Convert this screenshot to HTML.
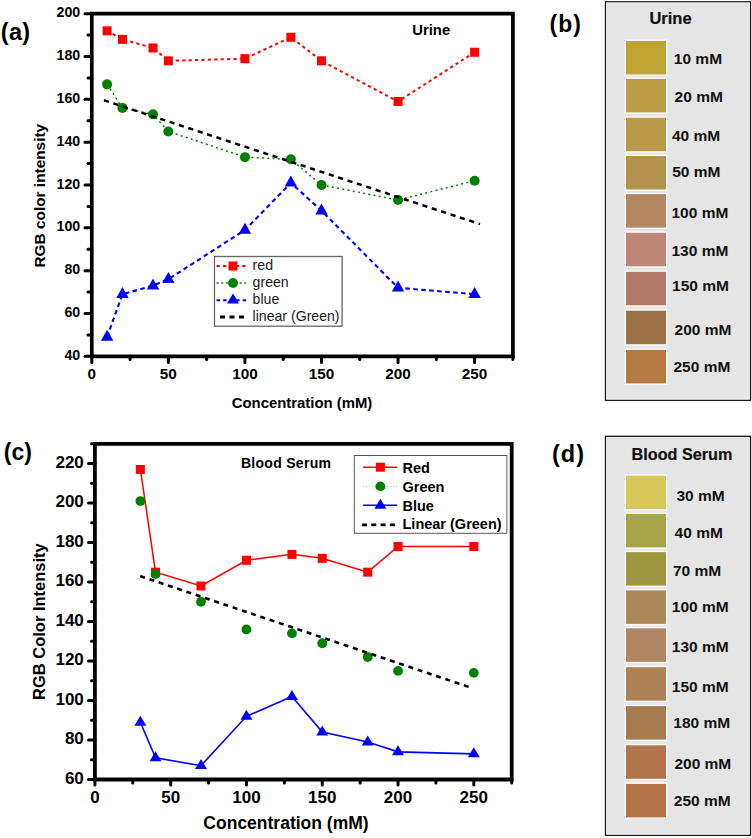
<!DOCTYPE html>
<html><head><meta charset="utf-8"><style>
html,body{margin:0;padding:0;background:#fff;}
body{width:752px;height:838px;overflow:hidden;}
svg{display:block;font-family:"Liberation Sans", sans-serif;}
</style></head><body>
<svg width="752" height="838" viewBox="0 0 752 838">
<g>
<path d="M91.8,356.3 L91.8,13.7 L512.9,13.7 L512.9,356.3 Z" fill="none" stroke="#000" stroke-width="3.7"/>
<line x1="91.8" y1="356.30" x2="85.0" y2="356.30" stroke="#000" stroke-width="3" stroke-linecap="round"/>
<text transform="translate(80.2,359.90) scale(1,1.08)" text-anchor="end" font-size="14.2" font-weight="bold">40</text>
<line x1="91.8" y1="334.89" x2="88.0" y2="334.89" stroke="#000" stroke-width="3" stroke-linecap="round"/>
<line x1="91.8" y1="313.48" x2="85.0" y2="313.48" stroke="#000" stroke-width="3" stroke-linecap="round"/>
<text transform="translate(80.2,317.08) scale(1,1.08)" text-anchor="end" font-size="14.2" font-weight="bold">60</text>
<line x1="91.8" y1="292.06" x2="88.0" y2="292.06" stroke="#000" stroke-width="3" stroke-linecap="round"/>
<line x1="91.8" y1="270.65" x2="85.0" y2="270.65" stroke="#000" stroke-width="3" stroke-linecap="round"/>
<text transform="translate(80.2,274.25) scale(1,1.08)" text-anchor="end" font-size="14.2" font-weight="bold">80</text>
<line x1="91.8" y1="249.24" x2="88.0" y2="249.24" stroke="#000" stroke-width="3" stroke-linecap="round"/>
<line x1="91.8" y1="227.83" x2="85.0" y2="227.83" stroke="#000" stroke-width="3" stroke-linecap="round"/>
<text transform="translate(80.2,231.43) scale(1,1.08)" text-anchor="end" font-size="14.2" font-weight="bold">100</text>
<line x1="91.8" y1="206.41" x2="88.0" y2="206.41" stroke="#000" stroke-width="3" stroke-linecap="round"/>
<line x1="91.8" y1="185.00" x2="85.0" y2="185.00" stroke="#000" stroke-width="3" stroke-linecap="round"/>
<text transform="translate(80.2,188.60) scale(1,1.08)" text-anchor="end" font-size="14.2" font-weight="bold">120</text>
<line x1="91.8" y1="163.59" x2="88.0" y2="163.59" stroke="#000" stroke-width="3" stroke-linecap="round"/>
<line x1="91.8" y1="142.18" x2="85.0" y2="142.18" stroke="#000" stroke-width="3" stroke-linecap="round"/>
<text transform="translate(80.2,145.78) scale(1,1.08)" text-anchor="end" font-size="14.2" font-weight="bold">140</text>
<line x1="91.8" y1="120.76" x2="88.0" y2="120.76" stroke="#000" stroke-width="3" stroke-linecap="round"/>
<line x1="91.8" y1="99.35" x2="85.0" y2="99.35" stroke="#000" stroke-width="3" stroke-linecap="round"/>
<text transform="translate(80.2,102.95) scale(1,1.08)" text-anchor="end" font-size="14.2" font-weight="bold">160</text>
<line x1="91.8" y1="77.94" x2="88.0" y2="77.94" stroke="#000" stroke-width="3" stroke-linecap="round"/>
<line x1="91.8" y1="56.53" x2="85.0" y2="56.53" stroke="#000" stroke-width="3" stroke-linecap="round"/>
<text transform="translate(80.2,60.13) scale(1,1.08)" text-anchor="end" font-size="14.2" font-weight="bold">180</text>
<line x1="91.8" y1="35.11" x2="88.0" y2="35.11" stroke="#000" stroke-width="3" stroke-linecap="round"/>
<line x1="91.8" y1="13.70" x2="85.0" y2="13.70" stroke="#000" stroke-width="3" stroke-linecap="round"/>
<text transform="translate(80.2,17.30) scale(1,1.08)" text-anchor="end" font-size="14.2" font-weight="bold">200</text>
<line x1="91.80" y1="356.3" x2="91.80" y2="362.6" stroke="#000" stroke-width="3" stroke-linecap="round"/>
<text transform="translate(91.80,379.4) scale(1,0.97)" text-anchor="middle" font-size="15.3" font-weight="bold">0</text>
<line x1="130.08" y1="356.3" x2="130.08" y2="359.6" stroke="#000" stroke-width="3" stroke-linecap="round"/>
<line x1="168.36" y1="356.3" x2="168.36" y2="362.6" stroke="#000" stroke-width="3" stroke-linecap="round"/>
<text transform="translate(168.36,379.4) scale(1,0.97)" text-anchor="middle" font-size="15.3" font-weight="bold">50</text>
<line x1="206.65" y1="356.3" x2="206.65" y2="359.6" stroke="#000" stroke-width="3" stroke-linecap="round"/>
<line x1="244.93" y1="356.3" x2="244.93" y2="362.6" stroke="#000" stroke-width="3" stroke-linecap="round"/>
<text transform="translate(244.93,379.4) scale(1,0.97)" text-anchor="middle" font-size="15.3" font-weight="bold">100</text>
<line x1="283.21" y1="356.3" x2="283.21" y2="359.6" stroke="#000" stroke-width="3" stroke-linecap="round"/>
<line x1="321.49" y1="356.3" x2="321.49" y2="362.6" stroke="#000" stroke-width="3" stroke-linecap="round"/>
<text transform="translate(321.49,379.4) scale(1,0.97)" text-anchor="middle" font-size="15.3" font-weight="bold">150</text>
<line x1="359.77" y1="356.3" x2="359.77" y2="359.6" stroke="#000" stroke-width="3" stroke-linecap="round"/>
<line x1="398.05" y1="356.3" x2="398.05" y2="362.6" stroke="#000" stroke-width="3" stroke-linecap="round"/>
<text transform="translate(398.05,379.4) scale(1,0.97)" text-anchor="middle" font-size="15.3" font-weight="bold">200</text>
<line x1="436.34" y1="356.3" x2="436.34" y2="359.6" stroke="#000" stroke-width="3" stroke-linecap="round"/>
<line x1="474.62" y1="356.3" x2="474.62" y2="362.6" stroke="#000" stroke-width="3" stroke-linecap="round"/>
<text transform="translate(474.62,379.4) scale(1,0.97)" text-anchor="middle" font-size="15.3" font-weight="bold">250</text>
<line x1="512.90" y1="356.3" x2="512.90" y2="359.6" stroke="#000" stroke-width="3" stroke-linecap="round"/>
<polyline points="107.11,30.83 122.43,39.39 153.05,47.96 168.36,60.81 244.93,58.67 290.87,37.25 321.49,60.81 398.05,101.49 474.62,52.24" fill="none" stroke="#ff0000" stroke-width="2" stroke-dasharray="3.2,3.2" stroke-linecap="butt"/><rect x="102.61" y="26.33" width="9" height="9" fill="#ff0000"/><rect x="117.93" y="34.89" width="9" height="9" fill="#ff0000"/><rect x="148.55" y="43.46" width="9" height="9" fill="#ff0000"/><rect x="163.86" y="56.31" width="9" height="9" fill="#ff0000"/><rect x="240.43" y="54.17" width="9" height="9" fill="#ff0000"/><rect x="286.37" y="32.75" width="9" height="9" fill="#ff0000"/><rect x="316.99" y="56.31" width="9" height="9" fill="#ff0000"/><rect x="393.55" y="96.99" width="9" height="9" fill="#ff0000"/><rect x="470.12" y="47.74" width="9" height="9" fill="#ff0000"/><polyline points="107.11,84.36 122.43,107.91 153.05,114.34 168.36,131.47 244.93,157.16 290.87,159.31 321.49,185.00 398.05,199.99 474.62,180.72" fill="none" stroke="#008000" stroke-width="1.5" stroke-dasharray="2,3.3" stroke-linecap="butt"/><circle cx="107.11" cy="84.36" r="5" fill="#008000"/><circle cx="122.43" cy="107.91" r="5" fill="#008000"/><circle cx="153.05" cy="114.34" r="5" fill="#008000"/><circle cx="168.36" cy="131.47" r="5" fill="#008000"/><circle cx="244.93" cy="157.16" r="5" fill="#008000"/><circle cx="290.87" cy="159.31" r="5" fill="#008000"/><circle cx="321.49" cy="185.00" r="5" fill="#008000"/><circle cx="398.05" cy="199.99" r="5" fill="#008000"/><circle cx="474.62" cy="180.72" r="5" fill="#008000"/><polyline points="107.11,337.03 122.43,294.20 153.05,285.64 168.36,279.22 244.93,229.97 290.87,182.86 321.49,210.69 398.05,287.78 474.62,294.20" fill="none" stroke="#0000ff" stroke-width="2.1" stroke-dasharray="4.6,3.4" stroke-linecap="butt"/><path d="M107.11,329.77 L113.31,340.77 L100.91,340.77 Z" fill="#0000ff"/><path d="M122.43,286.94 L128.63,297.94 L116.23,297.94 Z" fill="#0000ff"/><path d="M153.05,278.38 L159.25,289.38 L146.85,289.38 Z" fill="#0000ff"/><path d="M168.36,271.96 L174.56,282.96 L162.16,282.96 Z" fill="#0000ff"/><path d="M244.93,222.71 L251.13,233.71 L238.73,233.71 Z" fill="#0000ff"/><path d="M290.87,175.60 L297.07,186.60 L284.67,186.60 Z" fill="#0000ff"/><path d="M321.49,203.44 L327.69,214.44 L315.29,214.44 Z" fill="#0000ff"/><path d="M398.05,280.52 L404.25,291.52 L391.85,291.52 Z" fill="#0000ff"/><path d="M474.62,286.94 L480.82,297.94 L468.42,297.94 Z" fill="#0000ff"/><polyline points="104.00,100.30 480.00,224.10" fill="none" stroke="#000" stroke-width="2.5" stroke-dasharray="5.2,4.66" stroke-linecap="butt"/>
<text transform="translate(412.3,34.8) scale(1,1.03)" font-size="14.8" font-weight="bold">Urine</text>
<text transform="translate(45.2,195.7) rotate(-90)" text-anchor="middle" font-size="15.4" font-weight="bold">RGB color intensity</text>
<text x="302" y="407.5" text-anchor="middle" font-size="14.9" font-weight="bold">Concentration (mM)</text>
<rect x="214.5" y="256.5" width="127.6" height="69.7" fill="#fff" stroke="#666" stroke-width="1.3"/>
<polyline points="216.60,266.00 248.50,266.00" fill="none" stroke="#ff0000" stroke-width="2" stroke-dasharray="3.2,3.2" stroke-linecap="butt"/>
<rect x="228.50" y="261.50" width="9" height="9" fill="#ff0000"/>
<polyline points="216.60,283.00 248.50,283.00" fill="none" stroke="#008000" stroke-width="1.6" stroke-dasharray="2,2.6" stroke-linecap="butt"/>
<circle cx="233.00" cy="283.00" r="5" fill="#008000"/>
<polyline points="216.60,300.20 248.50,300.20" fill="none" stroke="#0000ff" stroke-width="2" stroke-dasharray="3.5,3" stroke-linecap="butt"/>
<path d="M233.00,293.60 L239.00,303.60 L227.00,303.60 Z" fill="#0000ff"/>
<polyline points="220.00,317.00 245.00,317.00" fill="none" stroke="#000" stroke-width="3" stroke-dasharray="5,4.5" stroke-linecap="butt"/>
<text x="252.6" y="270.10" font-size="14.1" fill="#1a1a1a">red</text>
<text x="252.6" y="287.20" font-size="14.1" fill="#1a1a1a">green</text>
<text x="252.6" y="304.30" font-size="14.1" fill="#1a1a1a">blue</text>
<text x="252.6" y="321.40" font-size="14.1" fill="#1a1a1a">linear (Green)</text>
</g>
<g>
<path d="M94.9,779.5 L94.9,443.8 L511.7,443.8 L511.7,779.5 Z" fill="none" stroke="#000" stroke-width="3.8"/>
<line x1="94.9" y1="779.50" x2="88.5" y2="779.50" stroke="#000" stroke-width="3" stroke-linecap="round"/>
<text x="83.8" y="783.90" text-anchor="end" font-size="17" font-weight="bold">60</text>
<line x1="94.9" y1="759.75" x2="91.5" y2="759.75" stroke="#000" stroke-width="3" stroke-linecap="round"/>
<line x1="94.9" y1="740.01" x2="88.5" y2="740.01" stroke="#000" stroke-width="3" stroke-linecap="round"/>
<text x="83.8" y="744.41" text-anchor="end" font-size="17" font-weight="bold">80</text>
<line x1="94.9" y1="720.26" x2="91.5" y2="720.26" stroke="#000" stroke-width="3" stroke-linecap="round"/>
<line x1="94.9" y1="700.51" x2="88.5" y2="700.51" stroke="#000" stroke-width="3" stroke-linecap="round"/>
<text x="83.8" y="704.91" text-anchor="end" font-size="17" font-weight="bold">100</text>
<line x1="94.9" y1="680.76" x2="91.5" y2="680.76" stroke="#000" stroke-width="3" stroke-linecap="round"/>
<line x1="94.9" y1="661.02" x2="88.5" y2="661.02" stroke="#000" stroke-width="3" stroke-linecap="round"/>
<text x="83.8" y="665.42" text-anchor="end" font-size="17" font-weight="bold">120</text>
<line x1="94.9" y1="641.27" x2="91.5" y2="641.27" stroke="#000" stroke-width="3" stroke-linecap="round"/>
<line x1="94.9" y1="621.52" x2="88.5" y2="621.52" stroke="#000" stroke-width="3" stroke-linecap="round"/>
<text x="83.8" y="625.92" text-anchor="end" font-size="17" font-weight="bold">140</text>
<line x1="94.9" y1="601.78" x2="91.5" y2="601.78" stroke="#000" stroke-width="3" stroke-linecap="round"/>
<line x1="94.9" y1="582.03" x2="88.5" y2="582.03" stroke="#000" stroke-width="3" stroke-linecap="round"/>
<text x="83.8" y="586.43" text-anchor="end" font-size="17" font-weight="bold">160</text>
<line x1="94.9" y1="562.28" x2="91.5" y2="562.28" stroke="#000" stroke-width="3" stroke-linecap="round"/>
<line x1="94.9" y1="542.54" x2="88.5" y2="542.54" stroke="#000" stroke-width="3" stroke-linecap="round"/>
<text x="83.8" y="546.94" text-anchor="end" font-size="17" font-weight="bold">180</text>
<line x1="94.9" y1="522.79" x2="91.5" y2="522.79" stroke="#000" stroke-width="3" stroke-linecap="round"/>
<line x1="94.9" y1="503.04" x2="88.5" y2="503.04" stroke="#000" stroke-width="3" stroke-linecap="round"/>
<text x="83.8" y="507.44" text-anchor="end" font-size="17" font-weight="bold">200</text>
<line x1="94.9" y1="483.29" x2="91.5" y2="483.29" stroke="#000" stroke-width="3" stroke-linecap="round"/>
<line x1="94.9" y1="463.55" x2="88.5" y2="463.55" stroke="#000" stroke-width="3" stroke-linecap="round"/>
<text x="83.8" y="467.95" text-anchor="end" font-size="17" font-weight="bold">220</text>
<line x1="94.9" y1="443.80" x2="91.5" y2="443.80" stroke="#000" stroke-width="3" stroke-linecap="round"/>
<line x1="94.90" y1="779.5" x2="94.90" y2="784.9" stroke="#000" stroke-width="3" stroke-linecap="round"/>
<text x="94.90" y="802.6" text-anchor="middle" font-size="17" font-weight="bold">0</text>
<line x1="132.79" y1="779.5" x2="132.79" y2="782.9" stroke="#000" stroke-width="3" stroke-linecap="round"/>
<line x1="170.68" y1="779.5" x2="170.68" y2="784.9" stroke="#000" stroke-width="3" stroke-linecap="round"/>
<text x="170.68" y="802.6" text-anchor="middle" font-size="17" font-weight="bold">50</text>
<line x1="208.57" y1="779.5" x2="208.57" y2="782.9" stroke="#000" stroke-width="3" stroke-linecap="round"/>
<line x1="246.46" y1="779.5" x2="246.46" y2="784.9" stroke="#000" stroke-width="3" stroke-linecap="round"/>
<text x="246.46" y="802.6" text-anchor="middle" font-size="17" font-weight="bold">100</text>
<line x1="284.35" y1="779.5" x2="284.35" y2="782.9" stroke="#000" stroke-width="3" stroke-linecap="round"/>
<line x1="322.25" y1="779.5" x2="322.25" y2="784.9" stroke="#000" stroke-width="3" stroke-linecap="round"/>
<text x="322.25" y="802.6" text-anchor="middle" font-size="17" font-weight="bold">150</text>
<line x1="360.14" y1="779.5" x2="360.14" y2="782.9" stroke="#000" stroke-width="3" stroke-linecap="round"/>
<line x1="398.03" y1="779.5" x2="398.03" y2="784.9" stroke="#000" stroke-width="3" stroke-linecap="round"/>
<text x="398.03" y="802.6" text-anchor="middle" font-size="17" font-weight="bold">200</text>
<line x1="435.92" y1="779.5" x2="435.92" y2="782.9" stroke="#000" stroke-width="3" stroke-linecap="round"/>
<line x1="473.81" y1="779.5" x2="473.81" y2="784.9" stroke="#000" stroke-width="3" stroke-linecap="round"/>
<text x="473.81" y="802.6" text-anchor="middle" font-size="17" font-weight="bold">250</text>
<line x1="511.70" y1="779.5" x2="511.70" y2="782.9" stroke="#000" stroke-width="3" stroke-linecap="round"/>
<polyline points="140.37,469.47 155.53,572.16 200.99,585.98 246.46,560.31 291.93,554.38 322.25,558.33 367.71,572.16 398.03,546.48 473.81,546.48" fill="none" stroke="#ff0000" stroke-width="1.5" stroke-linecap="butt"/><rect x="135.87" y="464.97" width="9" height="9" fill="#ff0000"/><rect x="151.03" y="567.66" width="9" height="9" fill="#ff0000"/><rect x="196.49" y="581.48" width="9" height="9" fill="#ff0000"/><rect x="241.96" y="555.81" width="9" height="9" fill="#ff0000"/><rect x="287.43" y="549.88" width="9" height="9" fill="#ff0000"/><rect x="317.75" y="553.83" width="9" height="9" fill="#ff0000"/><rect x="363.21" y="567.66" width="9" height="9" fill="#ff0000"/><rect x="393.53" y="541.98" width="9" height="9" fill="#ff0000"/><rect x="469.31" y="541.98" width="9" height="9" fill="#ff0000"/><circle cx="140.37" cy="501.07" r="4.9" fill="#008000"/><circle cx="155.53" cy="574.13" r="4.9" fill="#008000"/><circle cx="200.99" cy="601.78" r="4.9" fill="#008000"/><circle cx="246.46" cy="629.42" r="4.9" fill="#008000"/><circle cx="291.93" cy="633.37" r="4.9" fill="#008000"/><circle cx="322.25" cy="643.25" r="4.9" fill="#008000"/><circle cx="367.71" cy="657.07" r="4.9" fill="#008000"/><circle cx="398.03" cy="670.89" r="4.9" fill="#008000"/><circle cx="473.81" cy="672.87" r="4.9" fill="#008000"/><polyline points="140.37,722.23 155.53,757.78 200.99,765.68 246.46,716.31 291.93,696.56 322.25,732.11 367.71,741.98 398.03,751.85 473.81,753.83" fill="none" stroke="#0000ff" stroke-width="1.6" stroke-linecap="butt"/><path d="M140.37,715.63 L146.37,725.63 L134.37,725.63 Z" fill="#0000ff"/><path d="M155.53,751.18 L161.53,761.18 L149.53,761.18 Z" fill="#0000ff"/><path d="M200.99,759.08 L206.99,769.08 L194.99,769.08 Z" fill="#0000ff"/><path d="M246.46,709.71 L252.46,719.71 L240.46,719.71 Z" fill="#0000ff"/><path d="M291.93,689.96 L297.93,699.96 L285.93,699.96 Z" fill="#0000ff"/><path d="M322.25,725.51 L328.25,735.51 L316.25,735.51 Z" fill="#0000ff"/><path d="M367.71,735.38 L373.71,745.38 L361.71,745.38 Z" fill="#0000ff"/><path d="M398.03,745.25 L404.03,755.25 L392.03,755.25 Z" fill="#0000ff"/><path d="M473.81,747.23 L479.81,757.23 L467.81,757.23 Z" fill="#0000ff"/><polyline points="140.20,576.10 469.30,687.10" fill="none" stroke="#000" stroke-width="2.6" stroke-dasharray="5,4.76" stroke-linecap="butt"/>
<text x="240.9" y="467.7" font-size="14" font-weight="bold" letter-spacing="0.3">Blood Serum</text>
<text transform="translate(44.8,621.6) rotate(-90)" text-anchor="middle" font-size="16.5" font-weight="bold">RGB Color Intensity</text>
<text x="286" y="829" text-anchor="middle" font-size="17.5" font-weight="bold">Concentration (mM)</text>
<rect x="354.3" y="455.5" width="152.6" height="77.8" fill="#fff" stroke="#555" stroke-width="1"/>
<polyline points="363.10,467.20 397.20,467.20" fill="none" stroke="#ff0000" stroke-width="1.6" stroke-linecap="butt"/>
<rect x="375.90" y="462.70" width="9" height="9" fill="#ff0000"/>
<polyline points="363.10,486.40 397.20,486.40" fill="none" stroke="#9c9" stroke-width="1" stroke-dasharray="1,2" stroke-linecap="butt"/>
<circle cx="380.40" cy="486.40" r="4.9" fill="#008000"/>
<polyline points="363.10,505.30 397.20,505.30" fill="none" stroke="#0000ff" stroke-width="1.6" stroke-linecap="butt"/>
<path d="M380.40,498.70 L386.40,508.70 L374.40,508.70 Z" fill="#0000ff"/>
<polyline points="362.00,524.90 397.50,524.90" fill="none" stroke="#000" stroke-width="2.7" stroke-dasharray="5,4.3" stroke-linecap="butt"/>
<text x="402.5" y="473.00" font-size="14.5" font-weight="bold">Red</text>
<text x="402.5" y="492.20" font-size="14.5" font-weight="bold">Green</text>
<text x="402.5" y="511.10" font-size="14.5" font-weight="bold">Blue</text>
<text x="402.5" y="529.40" font-size="14.5" font-weight="bold">Linear (Green)</text>
</g>
<text transform="translate(0.8,40.4) scale(1,1.04)" font-size="23.5" font-weight="bold" letter-spacing="0.3">(a)</text>
<text transform="translate(3.8,460.2) scale(1,1.04)" font-size="23" font-weight="bold">(c)</text>
<text transform="translate(549.5,31.9) scale(1,1.04)" font-size="23" font-weight="bold" letter-spacing="1">(b)</text>
<text transform="translate(552,461.7) scale(1,1.04)" font-size="23.5" font-weight="bold" letter-spacing="1">(d)</text>
<rect x="605.5" y="1.8" width="145" height="398.5" fill="#e5e5e5" stroke="#111" stroke-width="1.3"/>
<rect x="606.7" y="3.0" width="142.6" height="396.1" fill="none" stroke="#f4f4f4" stroke-width="0.8"/>
<text transform="translate(649.4,24.2) scale(1,1.0)" font-size="16.5" font-weight="bold" fill="#111" stroke="#111" stroke-width="0.2">Urine</text>
<rect x="624.6" y="39.50" width="42.8" height="36.5" fill="#fafafa"/>
<rect x="626" y="41.00" width="40" height="33.5" fill="#c0a532"/>
<text transform="translate(673.80,63.90) scale(1,1.0)" font-size="15.5" font-weight="bold" fill="#111">10 mM</text>
<rect x="624.6" y="77.40" width="42.8" height="36.5" fill="#fafafa"/>
<rect x="626" y="78.90" width="40" height="33.5" fill="#bb9d45"/>
<text transform="translate(674.60,102.20) scale(1,1.0)" font-size="15.5" font-weight="bold" fill="#111">20 mM</text>
<rect x="624.6" y="116.20" width="42.8" height="36.5" fill="#fafafa"/>
<rect x="626" y="117.70" width="40" height="33.5" fill="#b89a4a"/>
<text transform="translate(671.90,141.30) scale(1,1.0)" font-size="15.5" font-weight="bold" fill="#111">40 mM</text>
<rect x="624.6" y="154.50" width="42.8" height="36.5" fill="#fafafa"/>
<rect x="626" y="156.00" width="40" height="33.5" fill="#b2924c"/>
<text transform="translate(672.20,176.90) scale(1,1.0)" font-size="15.5" font-weight="bold" fill="#111">50 mM</text>
<rect x="624.6" y="192.60" width="42.8" height="36.5" fill="#fafafa"/>
<rect x="626" y="194.10" width="40" height="33.5" fill="#b38762"/>
<text transform="translate(671.50,217.70) scale(1,1.0)" font-size="15.5" font-weight="bold" fill="#111">100 mM</text>
<rect x="624.6" y="231.30" width="42.8" height="36.5" fill="#fafafa"/>
<rect x="626" y="232.80" width="40" height="33.5" fill="#be8677"/>
<text transform="translate(671.50,256.40) scale(1,1.0)" font-size="15.5" font-weight="bold" fill="#111">130 mM</text>
<rect x="624.6" y="270.30" width="42.8" height="36.5" fill="#fafafa"/>
<rect x="626" y="271.80" width="40" height="33.5" fill="#b2796b"/>
<text transform="translate(672.10,291.30) scale(1,1.0)" font-size="15.5" font-weight="bold" fill="#111">150 mM</text>
<rect x="624.6" y="309.20" width="42.8" height="36.5" fill="#fafafa"/>
<rect x="626" y="310.70" width="40" height="33.5" fill="#9e7248"/>
<text transform="translate(674.60,334.60) scale(1,1.0)" font-size="15.5" font-weight="bold" fill="#111">200 mM</text>
<rect x="624.6" y="348.40" width="42.8" height="36.5" fill="#fafafa"/>
<rect x="626" y="349.90" width="40" height="33.5" fill="#b57a43"/>
<text transform="translate(673.50,371.60) scale(1,1.0)" font-size="15.5" font-weight="bold" fill="#111">250 mM</text>
<rect x="605.5" y="436.3" width="145" height="398.99999999999994" fill="#e5e5e5" stroke="#111" stroke-width="1.3"/>
<rect x="606.7" y="437.5" width="142.6" height="396.59999999999997" fill="none" stroke="#f4f4f4" stroke-width="0.8"/>
<text transform="translate(631.6,459.6) scale(1,1.0)" font-size="16.2" font-weight="bold" fill="#111" stroke="#111" stroke-width="0.2">Blood Serum</text>
<rect x="624.6" y="474.20" width="42.8" height="36.5" fill="#fafafa"/>
<rect x="626" y="475.70" width="40" height="33.5" fill="#d8c85a"/>
<text transform="translate(676.40,501.30) scale(1,1.0)" font-size="15.5" font-weight="bold" fill="#111">30 mM</text>
<rect x="624.6" y="512.40" width="42.8" height="36.5" fill="#fafafa"/>
<rect x="626" y="513.90" width="40" height="33.5" fill="#a6a548"/>
<text transform="translate(674.60,537.70) scale(1,1.0)" font-size="15.5" font-weight="bold" fill="#111">40 mM</text>
<rect x="624.6" y="550.60" width="42.8" height="36.5" fill="#fafafa"/>
<rect x="626" y="552.10" width="40" height="33.5" fill="#9f9642"/>
<text transform="translate(672.90,575.50) scale(1,1.0)" font-size="15.5" font-weight="bold" fill="#111">70 mM</text>
<rect x="624.6" y="588.90" width="42.8" height="36.5" fill="#fafafa"/>
<rect x="626" y="590.40" width="40" height="33.5" fill="#aa885a"/>
<text transform="translate(671.80,611.50) scale(1,1.0)" font-size="15.5" font-weight="bold" fill="#111">100 mM</text>
<rect x="624.6" y="626.80" width="42.8" height="36.5" fill="#fafafa"/>
<rect x="626" y="628.30" width="40" height="33.5" fill="#b08665"/>
<text transform="translate(671.80,651.90) scale(1,1.0)" font-size="15.5" font-weight="bold" fill="#111">130 mM</text>
<rect x="624.6" y="665.70" width="42.8" height="36.5" fill="#fafafa"/>
<rect x="626" y="667.20" width="40" height="33.5" fill="#ac8254"/>
<text transform="translate(671.80,691.50) scale(1,1.0)" font-size="15.5" font-weight="bold" fill="#111">150 mM</text>
<rect x="624.6" y="704.60" width="42.8" height="36.5" fill="#fafafa"/>
<rect x="626" y="706.10" width="40" height="33.5" fill="#a67b4e"/>
<text transform="translate(673.30,727.70) scale(1,1.0)" font-size="15.5" font-weight="bold" fill="#111">180 mM</text>
<rect x="624.6" y="743.80" width="42.8" height="36.5" fill="#fafafa"/>
<rect x="626" y="745.30" width="40" height="33.5" fill="#b2744a"/>
<text transform="translate(674.40,768.60) scale(1,1.0)" font-size="15.5" font-weight="bold" fill="#111">200 mM</text>
<rect x="624.6" y="782.40" width="42.8" height="36.5" fill="#fafafa"/>
<rect x="626" y="783.90" width="40" height="33.5" fill="#b27348"/>
<text transform="translate(673.80,806.10) scale(1,1.0)" font-size="15.5" font-weight="bold" fill="#111">250 mM</text>
</svg>
</body></html>
